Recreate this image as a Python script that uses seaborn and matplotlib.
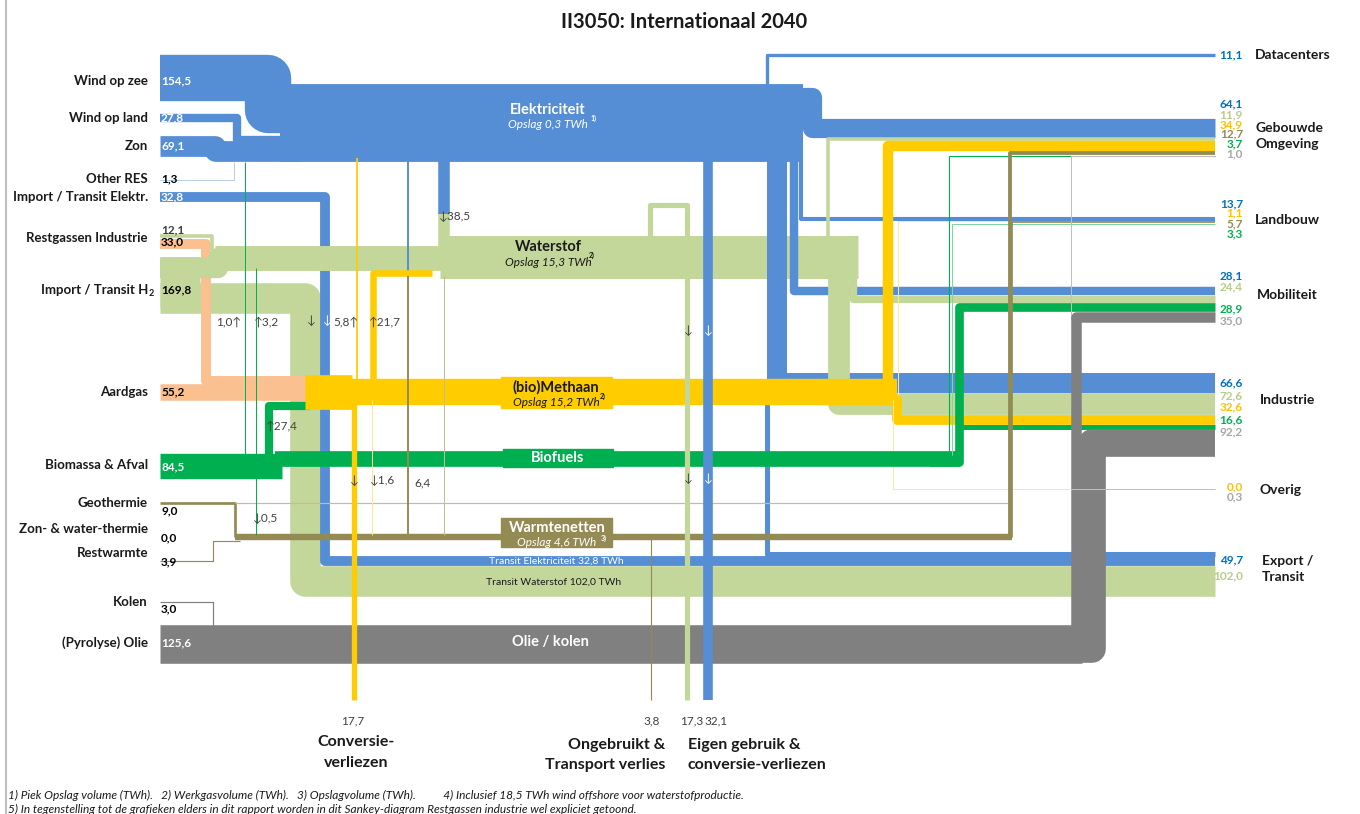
import matplotlib
matplotlib.use("Agg")
import matplotlib.pyplot as plt
from matplotlib.patches import Rectangle
import seaborn as sns

sns.set_theme(style="white")
plt.rcParams['font.family'] = ['Lato', 'DejaVu Sans']

# ---------------- data (TWh) ----------------
source_labels = ["Wind op zee", "Wind op land", "Zon", "Other RES", "Import / Transit Elektr.",
                 "Restgassen Industrie", "Import / Transit H", "Aardgas", "Biomassa & Afval",
                 "Geothermie", "Zon- & water-thermie", "Restwarmte", "Kolen", "(Pyrolyse) Olie"]
elec_sources = [154.5, 27.8, 69.1, 1.3]          # wind zee, wind land, zon, other RES
import_elec = 32.8
restgas_h2, restgas_gas = 12.1, 33.0
import_h2, transit_h2 = 169.8, 102.0
aardgas = 55.2
biomassa = 84.5
heat_sources = [9.0, 0.0, 3.9]                   # geothermie, zon/water-thermie, restwarmte
kolen, olie = 3.0, 125.6

# conversions between carriers
elec_to_h2, elec_to_heat = 38.5, 6.4
ch4_to_elec, ch4_to_h2, ch4_to_heat = 5.8, 21.7, 1.6
bio_to_elec, bio_to_h2, bio_to_ch4, bio_to_heat = 1.0, 3.2, 27.4, 0.5

# losses (bottom)
loss_values = [17.7, 3.8, 17.3, 32.1]   # CH4 conversion, heat unused, H2 own use, elec own use

# final demand (right)
sink_labels = ["Datacenters", "Gebouwde\nOmgeving", "Landbouw", "Mobiliteit", "Industrie",
               "Overig", "Export /\nTransit"]
elec_to_sink = [11.1, 64.1, 13.7, 28.1, 66.6, None, 49.7]
h2_to_sink = [None, 11.9, None, 24.4, 72.6, None, 102.0]
ch4_to_sink = [None, 34.9, 1.1, None, 32.6, 0.0, None]
heat_to_sink = [None, 12.7, 5.7, None, None, None, None]
bio_to_sink = [None, 3.7, 3.3, 28.9, 16.6, None, None]
oil_to_sink = [None, 1.0, None, 35.0, 92.2, 0.3, None]

# ---------------- style / layout ----------------
S = 0.30            # px per TWh
PT = 72 / 100       # px -> points
X_END = 1215
C = dict(E='#558ED5', H='#C4D79B', G='#FAC090', M='#FFCC00', B='#00B050',
         W='#948A54', O='#808080')
C_LIGHT = dict(E='#B9CDE5', H='#D8E4BC', G='#FCD5B4', M='#FFE699', B='#7FD6A3',
               W='#C4BD97', O='#BFBFBF')
C_TXT = dict(E='#0070C0', H='#B7CC8A', M='#FFC000', B='#00B050', W='#948A54', O='#A6A6A6')

fig = plt.figure(figsize=(13.6, 8.14), dpi=100)
ax = fig.add_axes([0, 0, 1, 1])


def fmt(v):
    return f"{v:.1f}".replace('.', ',')


def flow(pts, value, key, z, light_if_thin=True, minw=1.0):
    clean = [pts[0]]
    for p in pts[1:]:
        if p != clean[-1]:
            clean.append(p)
    if len(clean) < 2:
        return
    w = max(value * S, minw)
    col = C_LIGHT[key] if (light_if_thin and value * S < 1.0) else C[key]
    xs = [p[0] for p in clean]
    ys = [p[1] for p in clean]
    sns.lineplot(x=xs, y=ys, sort=False, estimator=None, color=col, linewidth=w * PT,
                 solid_joinstyle='round', solid_capstyle='butt', zorder=z, ax=ax, legend=False)


def txt(x, y, s, size=9.5, weight='bold', color='#1a1a1a', ha='left', style='normal', z=20):
    ax.text(x, y, s, fontsize=size, fontweight=weight, color=color, ha=ha, va='center',
            style=style, zorder=z)


# ---------------- hubs (bus widths from throughput) ----------------
elec_bus = sum(elec_sources) + bio_to_elec + ch4_to_elec
h2_left = restgas_h2 + (import_h2 - transit_h2) + bio_to_h2
h2_bus = h2_left + elec_to_h2 + ch4_to_h2
ch4_in = aardgas + restgas_gas + bio_to_ch4
ch4_bus = ch4_in - ch4_to_h2 - ch4_to_elec
bio_bus = biomassa - bio_to_ch4 - bio_to_elec - bio_to_h2 - bio_to_heat
heat_bus = sum(heat_sources) + elec_to_heat + ch4_to_heat + bio_to_heat
oil_bus = olie + kolen

# ---------------- right-side stacking ----------------
carriers = ['E', 'H', 'M', 'W', 'B', 'O']
to_sink = dict(E=elec_to_sink, H=h2_to_sink, M=ch4_to_sink, W=heat_to_sink, B=bio_to_sink,
               O=oil_to_sink)
sink_top = [53.3, 118, 217, 287, 373, 489, 551]
ends = {}
for j in range(len(sink_labels)):
    top = sink_top[j]
    for k in carriers:
        v = to_sink[k][j]
        if v is None:
            continue
        if k == 'E' and j == 6:   # export: own part + transit
            own = v - import_elec
            ends[('E', j)] = top + own * S / 2
            ends[('Et', j)] = top + own * S + import_elec * S / 2
            top += v * S
            continue
        ends[(k, j)] = top + v * S / 2
        top += v * S

# entry point and vertical lane of each final-demand flow
lanes = {
    ('E', 0): ((767, 100), 767), ('E', 1): ((760, 97), 812), ('E', 2): ((801, 140), 801),
    ('E', 3): ((794, 150), 794), ('E', 4): ((777, 155), 777), ('E', 6): ((767, 390), 767),
    ('H', 1): ((828, 245), 828), ('H', 3): ((840, 262), 853), ('H', 4): ((839, 265), 839),
    ('M', 1): ((888, 395), 888), ('M', 2): ((898, 395), 898), ('M', 4): ((860, 400), 897),
    ('M', 5): ((893, 400), 893),
    ('W', 1): ((1000, 537), 1010), ('W', 2): ((1000, 537), 1012),
    ('B', 1): ((949, 455), 949), ('B', 2): ((952, 455), 952), ('B', 3): ((930, 462), 959),
    ('B', 4): ((959, 450), 959),
    ('O', 1): ((1071, 320), 1071), ('O', 3): ((1000, 640), 1076), ('O', 4): ((950, 649), 1092),
    ('O', 5): ((1071, 489.5), 1071),
}
zr = dict(E=4, H=5, M=6, B=6.5, W=7, O=8)

# ---------------- transit bands ----------------
flow([(160, 298), (305, 298), (305, ends[('H', 6)]), (X_END, ends[('H', 6)])], transit_h2, 'H', 1)
flow([(160, 197), (325, 197), (325, ends[('Et', 6)]), (X_END, ends[('Et', 6)])], import_elec, 'E', 1.5)

# ---------------- electricity ----------------
flow([(280, 123), (803, 123)], elec_bus, 'E', 3.2)
flow([(160, 78), (268, 78), (268, 110), (320, 110)], elec_sources[0], 'E', 3.2)
flow([(160, 118), (237, 118), (237, 140), (290, 140)], elec_sources[1], 'E', 3.2)
flow([(160, 146), (215, 146), (215, 151), (300, 151)], elec_sources[2], 'E', 3.2)
flow([(160, 180), (234, 180), (234, 162)], elec_sources[3], 'E', 3.2)
flow([(444, 155), (444, 214)], elec_to_h2, 'E', 3.2)
flow([(408, 160), (408, 276)], elec_to_heat, 'E', 9, light_if_thin=False, minw=1.2)

# ---------------- hydrogen ----------------
flow([(160, 282), (200, 282)], import_h2, 'H', 1)
flow([(215, 258), (445, 258)], h2_left, 'H', 3)
flow([(440, 257), (858, 257)], h2_bus, 'H', 3)
flow([(160, 236), (212, 236), (212, 250)], restgas_h2, 'H', 3)
flow([(160, 268), (218, 268), (218, 258), (240, 258)], import_h2 - transit_h2, 'H', 3)
flow([(444, 212), (444, 252), (470, 252)], elec_to_h2, 'H', 3.1)
flow([(650, 240), (650, 205), (687, 205), (687, 700)], loss_values[2], 'H', 9)

# ---------------- gas / methane ----------------
flow([(160, 244), (206, 244), (206, 381), (320, 381)], restgas_gas, 'G', 2.5)
flow([(160, 392), (330, 392)], aardgas, 'G', 2.5)
flow([(305, 392), (352, 392)], ch4_in, 'M', 6)
flow([(330, 392), (897, 392)], ch4_bus, 'M', 6)
flow([(373, 385), (373, 273), (432, 273)], ch4_to_h2, 'M', 9)
flow([(357, 385), (357, 158)], ch4_to_elec, 'M', 9, light_if_thin=False)
flow([(372, 400), (372, 535)], ch4_to_heat, 'M', 9)
flow([(354, 400), (354, 700)], loss_values[0], 'M', 9)

# ---------------- biomass / biofuels ----------------
flow([(160, 466), (282, 466)], biomassa, 'B', 6.5)
flow([(275, 459), (960, 459)], bio_bus, 'B', 6.5)
flow([(269, 455), (269, 406), (310, 406)], bio_to_ch4, 'B', 5.5)
flow([(245, 455), (245, 162)], bio_to_elec, 'B', 9, light_if_thin=False)
flow([(256, 455), (256, 268)], bio_to_h2, 'B', 9, light_if_thin=False)
flow([(256, 478), (256, 535)], bio_to_heat, 'B', 9, light_if_thin=False)

# ---------------- heat ----------------
flow([(235, 537), (1012, 537)], heat_bus, 'W', 7)
flow([(160, 503), (235, 503), (235, 537)], heat_sources[0], 'W', 7)
flow([(235, 503), (1010, 503)], heat_sources[1], 'W', 7, minw=1.2)
flow([(160, 561), (213, 561), (213, 541), (240, 541)], heat_sources[2], 'W', 7, light_if_thin=False)
flow([(408, 276), (408, 535)], elec_to_heat, 'W', 9, light_if_thin=False, minw=1.2)
flow([(444, 276), (444, 535)], 0.0, 'W', 9, minw=1.0)
flow([(651, 537), (651, 700)], loss_values[1], 'W', 9, light_if_thin=False)

# ---------------- oil / coal ----------------
flow([(160, 602), (213, 602), (213, 627)], kolen, 'O', 2, light_if_thin=False, minw=1.2)
flow([(160, 644), (1082, 644)], oil_bus, 'O', 2)

# ---------------- final demand flows ----------------
for (k, j), (start, xv) in lanes.items():
    v = to_sink[k][j]
    if k == 'E' and j == 6:
        v = v - import_elec
    yc = ends[(k, j)]
    pts = [start, (xv, start[1]), (xv, yc), (X_END, yc)]
    flow(pts, v, k, zr[k], light_if_thin=True)

# electricity own use
flow([(708, 155), (708, 700)], loss_values[3], 'E', 9)

# ---------------- node labels ----------------
ax.plot([6, 6], [0, 814], color='#BFBFBF', lw=1.5, zorder=0)
txt(684, 22, "II3050: Internationaal 2040", size=14.5, ha='center')

src_y = [81, 118, 146, 179, 197, 238, 290, 392, 465, 503, 529, 553, 602, 643]
for lab, y in zip(source_labels, src_y):
    txt(148, y, lab, size=9.5, ha='right')
txt(149, 294, "2", size=6.5)

src_vals = [(elec_sources[0], 81, 'white'), (elec_sources[1], 118, 'white'),
            (elec_sources[2], 146, 'white'), (elec_sources[3], 179, 'black'),
            (import_elec, 197, 'white'), (restgas_h2, 230, '#404040'),
            (restgas_gas, 242, 'black'), (import_h2, 290, 'black'), (aardgas, 392, 'black'),
            (biomassa, 467, 'white'), (heat_sources[0], 511, 'black'),
            (heat_sources[1], 538, 'black'), (heat_sources[2], 562, 'black'),
            (kolen, 609, 'black'), (olie, 643, 'white')]
for v, y, col in src_vals:
    txt(161, y, fmt(v), size=8.5, color=col)

# right labels
val_y = {0: [55], 1: [104, 115, 125, 134, 144, 154], 2: [204, 213, 224, 234],
         3: [276, 287, 309, 321], 4: [383, 396, 407, 420, 432], 5: [487, 497], 6: [560, 576]}
for j in range(len(sink_labels)):
    vals = [(k, to_sink[k][j]) for k in carriers if to_sink[k][j] is not None]
    for (k, v), y in zip(vals, val_y[j]):
        txt(1243, y, fmt(v), size=8.5, color=C_TXT[k], ha='right')
name_pos = [(1255, 55), (1255, 136), (1255, 220), (1257, 295), (1260, 400), (1259, 490),
            (1262, 569)]
for lab, (x, y) in zip(sink_labels, name_pos):
    ax.text(x, y, lab, fontsize=10, fontweight='bold', color='#1a1a1a', ha='left', va='center',
            linespacing=1.35, zorder=20)

# hub labels
txt(548, 110, "Elektriciteit", size=10.5, color='white', ha='center')
txt(548, 125, "Opslag 0,3 TWh", size=8.5, weight='normal', color='white', ha='center', style='italic')
txt(591, 118, "1)", size=5, color='white')
txt(548, 247, "Waterstof", size=10.5, ha='center')
txt(548, 263, "Opslag 15,3 TWh", size=8.5, weight='normal', ha='center', style='italic')
txt(589, 255, "2)", size=5)
ax.add_patch(Rectangle((501, 377), 111, 31, color=C['M'], zorder=10))
txt(556, 387, "(bio)Methaan", size=10.5, ha='center', z=21)
txt(556, 402, "Opslag 15,2 TWh", size=8.5, weight='normal', ha='center', style='italic', z=21)
txt(600, 396, "2)", size=5, z=21)
ax.add_patch(Rectangle((503, 449), 110, 18, color=C['B'], zorder=10))
txt(558, 458, "Biofuels", size=10.5, color='white', ha='center', z=21)
ax.add_patch(Rectangle((501, 518), 111, 29, color=C['W'], zorder=10))
txt(557, 528, "Warmtenetten", size=10.5, color='white', ha='center', z=21)
txt(557, 543, "Opslag 4,6 TWh", size=8.5, weight='normal', color='white', ha='center', style='italic', z=21)
txt(601, 538, "3)", size=5, color='white', z=21)
txt(556, 561, "Transit Elektriciteit 32,8 TWh", size=7.5, weight='normal', color='white', ha='center')
txt(554, 582, "Transit Waterstof 102,0 TWh", size=7.5, weight='normal', color='#1a1a1a', ha='center')
txt(550, 642, "Olie / kolen", size=10.5, color='white', ha='center')

# conversion arrows / values
dk = '#404040'
txt(439, 216, "↓" + fmt(elec_to_h2), size=8.5, weight='normal', color=dk)
txt(241, 322, fmt(bio_to_elec) + "↑", size=8.5, weight='normal', color=dk, ha='right')
txt(254, 322, "↑" + fmt(bio_to_h2), size=8.5, weight='normal', color=dk)
txt(311, 320, "↓", size=8.5, weight='normal', color=dk, ha='center')
txt(327, 320, "↓", size=8.5, weight='normal', color='white', ha='center')
txt(333, 322, fmt(ch4_to_elec) + "↑", size=8.5, weight='normal', color=dk)
txt(369, 322, "↑" + fmt(ch4_to_h2), size=8.5, weight='normal', color=dk)
txt(266, 426, "↑" + fmt(bio_to_ch4), size=8.5, weight='normal', color=dk)
txt(354, 480, "↓", size=8.5, weight='normal', color=dk, ha='center')
txt(370, 481, "↓" + fmt(ch4_to_heat), size=8.5, weight='normal', color=dk)
txt(414, 483, fmt(elec_to_heat), size=8.5, weight='normal', color=dk)
txt(253, 518, "↓" + fmt(bio_to_heat), size=8.5, weight='normal', color=dk)
for yy in (330, 478):
    txt(688, yy, "↓", size=8.5, weight='normal', color=dk, ha='center')
    txt(708, yy, "↓", size=8.5, weight='normal', color='white', ha='center')

# bottom loss labels
txt(353, 721, fmt(loss_values[0]), size=8.5, weight='normal', color=dk, ha='center')
txt(652, 721, fmt(loss_values[1]), size=8.5, weight='normal', color=dk, ha='center')
txt(692, 721, fmt(loss_values[2]), size=8.5, weight='normal', color=dk, ha='center')
txt(716, 721, fmt(loss_values[3]), size=8.5, weight='normal', color=dk, ha='center')
txt(356, 742, "Conversie-", size=11.5, ha='center')
txt(356, 763, "verliezen", size=11.5, ha='center')
txt(665, 745, "Ongebruikt &", size=11.5, ha='right')
txt(665, 765, "Transport verlies", size=11.5, ha='right')
txt(688, 745, "Eigen gebruik &", size=11.5)
txt(688, 765, "conversie-verliezen", size=11.5)

# footnotes
txt(8, 795, "1) Piek Opslag volume (TWh).   2) Werkgasvolume (TWh).   3) Opslagvolume (TWh).          "
            "4) Inclusief 18,5 TWh wind offshore voor waterstofproductie.",
    size=8.6, weight='normal', style='italic')
txt(8, 809, "5) In tegenstelling tot de grafieken elders in dit rapport worden in dit Sankey-diagram "
            "Restgassen industrie wel expliciet getoond.", size=8.6, weight='normal', style='italic')

ax.set_xlim(0, 1360)
ax.set_ylim(814, 0)
ax.axis('off')
fig.savefig("out.png", dpi=100)
